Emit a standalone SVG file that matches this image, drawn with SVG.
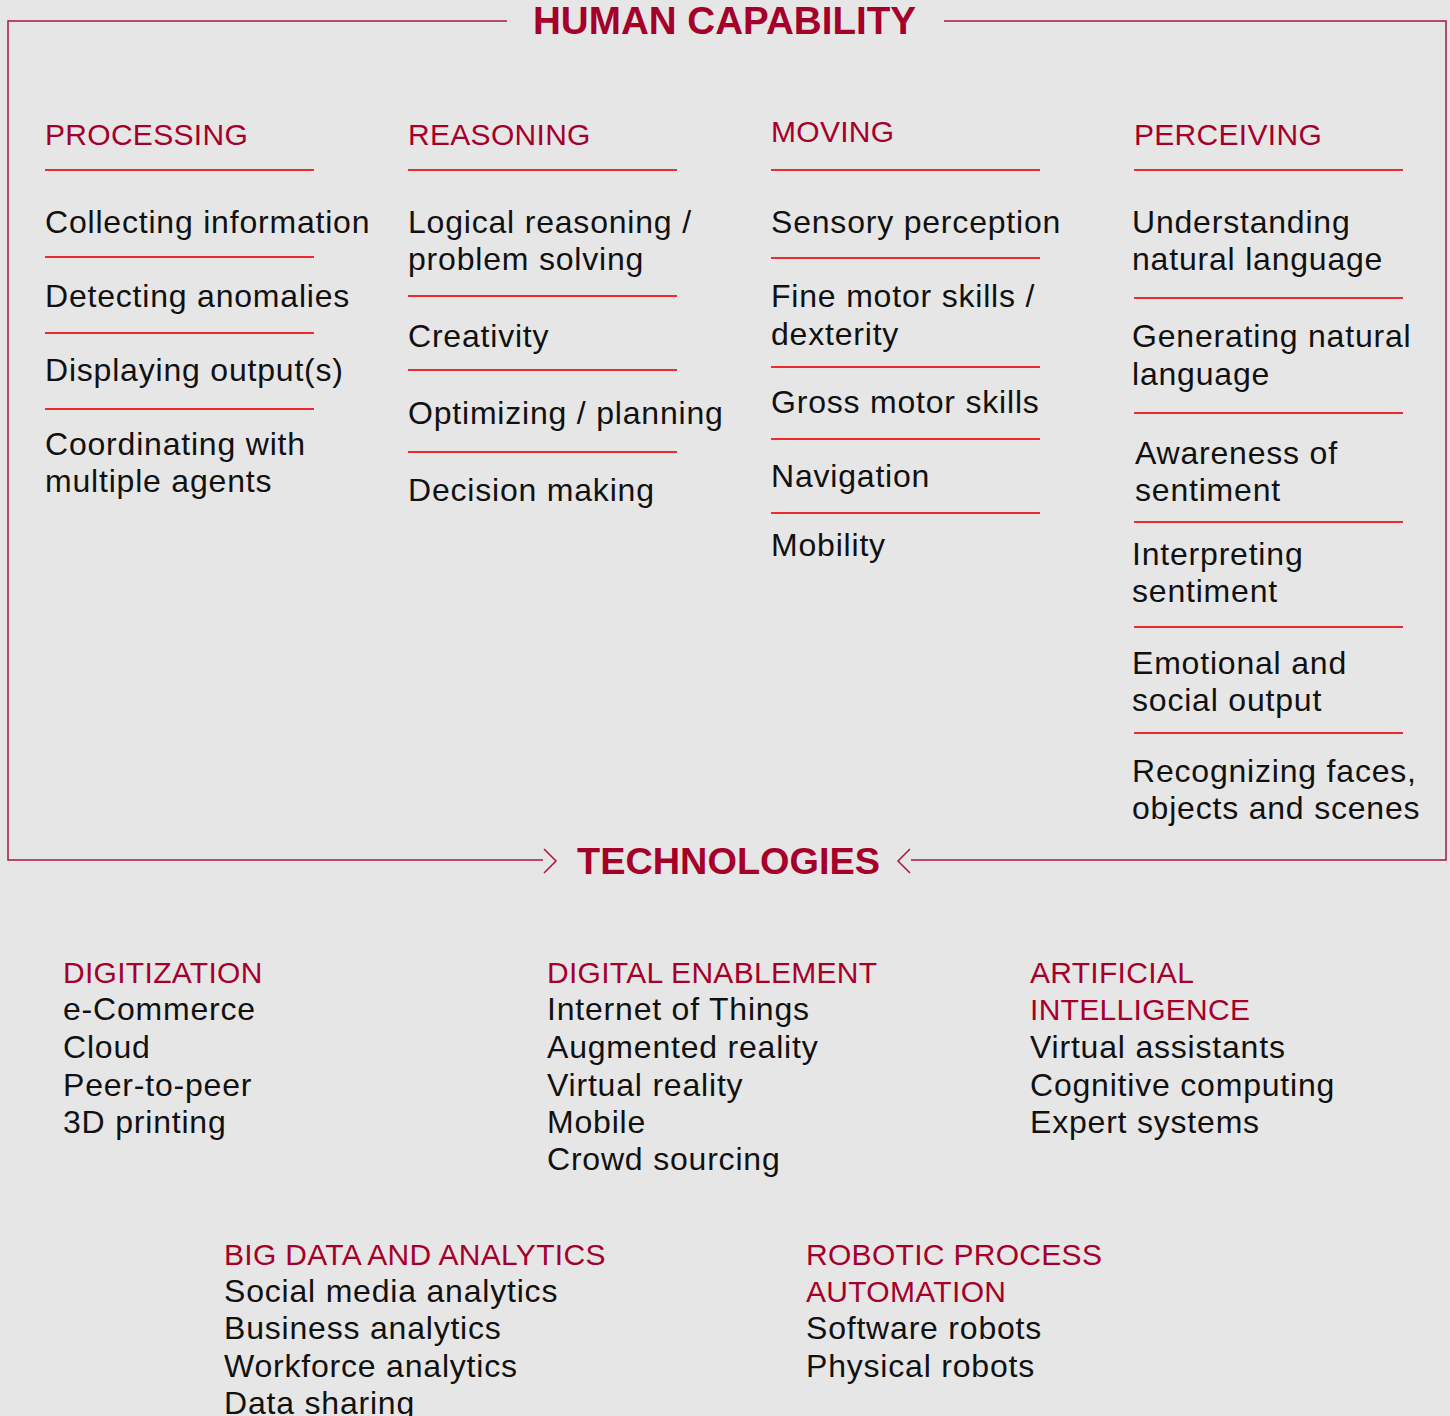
<svg xmlns="http://www.w3.org/2000/svg" width="1450" height="1416" viewBox="0 0 1450 1416">
<style>
.bg{fill:#e6e6e6}
.frame{stroke:#a8173a;stroke-width:1.5;fill:none}
.rule{stroke:#ee2a2e;stroke-width:2}
.title{font-family:"Liberation Sans",Arial,sans-serif;font-weight:bold;fill:#a5002a}
.hd{font-family:"Liberation Sans",Arial,sans-serif;font-size:30px;fill:#a5002a;letter-spacing:0.3px}
.tx{font-family:"Liberation Sans",Arial,sans-serif;font-size:32px;fill:#111;letter-spacing:0.8px}
</style>
<rect class="bg" x="0" y="0" width="1450" height="1416"/>
<g id="connectors">
<path class="frame" d="M507,21 H8 V860 H543"/>
<path class="frame" d="M944,21 H1446 V860 H911"/>
<path class="frame" d="M544,849 L556,861 L544,873" stroke-width="2.5"/>
<path class="frame" d="M910,849 L898,861 L910,873" stroke-width="2.5"/>
</g>
<g id="title-human">
<text class="title" x="533" y="34" font-size="38" textLength="383" lengthAdjust="spacingAndGlyphs">HUMAN CAPABILITY</text>
</g>
<g id="title-tech">
<text class="title" x="577" y="874" font-size="36" textLength="303" lengthAdjust="spacingAndGlyphs">TECHNOLOGIES</text>
</g>
<g id="col-processing">
<text class="hd" x="45" y="145">PROCESSING</text>
<line class="rule" x1="45" y1="170" x2="314" y2="170"/>
<text class="tx" x="45" y="233">Collecting information</text>
<line class="rule" x1="45" y1="257" x2="314" y2="257"/>
<text class="tx" x="45" y="307">Detecting anomalies</text>
<line class="rule" x1="45" y1="333" x2="314" y2="333"/>
<text class="tx" x="45" y="381">Displaying output(s)</text>
<line class="rule" x1="45" y1="409" x2="314" y2="409"/>
<text class="tx" x="45" y="455">Coordinating with</text>
<text class="tx" x="45" y="492">multiple agents</text>
</g>
<g id="col-reasoning">
<text class="hd" x="408" y="145">REASONING</text>
<line class="rule" x1="408" y1="170" x2="677" y2="170"/>
<text class="tx" x="408" y="233">Logical reasoning /</text>
<text class="tx" x="408" y="270">problem solving</text>
<line class="rule" x1="408" y1="296" x2="677" y2="296"/>
<text class="tx" x="408" y="347">Creativity</text>
<line class="rule" x1="408" y1="370" x2="677" y2="370"/>
<text class="tx" x="408" y="424">Optimizing / planning</text>
<line class="rule" x1="408" y1="452" x2="677" y2="452"/>
<text class="tx" x="408" y="501">Decision making</text>
</g>
<g id="col-moving">
<text class="hd" x="771" y="142">MOVING</text>
<line class="rule" x1="771" y1="170" x2="1040" y2="170"/>
<text class="tx" x="771" y="233">Sensory perception</text>
<line class="rule" x1="771" y1="258" x2="1040" y2="258"/>
<text class="tx" x="771" y="307">Fine motor skills /</text>
<text class="tx" x="771" y="345">dexterity</text>
<line class="rule" x1="771" y1="367" x2="1040" y2="367"/>
<text class="tx" x="771" y="413">Gross motor skills</text>
<line class="rule" x1="771" y1="439" x2="1040" y2="439"/>
<text class="tx" x="771" y="487">Navigation</text>
<line class="rule" x1="771" y1="513" x2="1040" y2="513"/>
<text class="tx" x="771" y="556">Mobility</text>
</g>
<g id="col-perceiving">
<text class="hd" x="1134" y="145">PERCEIVING</text>
<line class="rule" x1="1134" y1="170" x2="1403" y2="170"/>
<text class="tx" x="1132" y="233">Understanding</text>
<text class="tx" x="1132" y="270">natural language</text>
<line class="rule" x1="1134" y1="298" x2="1403" y2="298"/>
<text class="tx" x="1132" y="347">Generating natural</text>
<text class="tx" x="1132" y="385">language</text>
<line class="rule" x1="1134" y1="413" x2="1403" y2="413"/>
<text class="tx" x="1135" y="464">Awareness of</text>
<text class="tx" x="1135" y="501">sentiment</text>
<line class="rule" x1="1134" y1="522" x2="1403" y2="522"/>
<text class="tx" x="1132" y="565">Interpreting</text>
<text class="tx" x="1132" y="602">sentiment</text>
<line class="rule" x1="1134" y1="627" x2="1403" y2="627"/>
<text class="tx" x="1132" y="674">Emotional and</text>
<text class="tx" x="1132" y="711">social output</text>
<line class="rule" x1="1134" y1="733" x2="1403" y2="733"/>
<text class="tx" x="1132" y="782">Recognizing faces,</text>
<text class="tx" x="1132" y="819">objects and scenes</text>
</g>
<g id="tech-digitization">
<text class="hd" x="63" y="983">DIGITIZATION</text>
<text class="tx" x="63" y="1020">e-Commerce</text>
<text class="tx" x="63" y="1058">Cloud</text>
<text class="tx" x="63" y="1096">Peer-to-peer</text>
<text class="tx" x="63" y="1133">3D printing</text>
</g>
<g id="tech-digital-enablement">
<text class="hd" x="547" y="983">DIGITAL ENABLEMENT</text>
<text class="tx" x="547" y="1020">Internet of Things</text>
<text class="tx" x="547" y="1058">Augmented reality</text>
<text class="tx" x="547" y="1096">Virtual reality</text>
<text class="tx" x="547" y="1133">Mobile</text>
<text class="tx" x="547" y="1170">Crowd sourcing</text>
</g>
<g id="tech-ai">
<text class="hd" x="1030" y="983">ARTIFICIAL</text>
<text class="hd" x="1030" y="1020">INTELLIGENCE</text>
<text class="tx" x="1030" y="1058">Virtual assistants</text>
<text class="tx" x="1030" y="1096">Cognitive computing</text>
<text class="tx" x="1030" y="1133">Expert systems</text>
</g>
<g id="tech-big-data">
<text class="hd" x="224" y="1265">BIG DATA AND ANALYTICS</text>
<text class="tx" x="224" y="1302">Social media analytics</text>
<text class="tx" x="224" y="1339">Business analytics</text>
<text class="tx" x="224" y="1377">Workforce analytics</text>
<text class="tx" x="224" y="1414">Data sharing</text>
</g>
<g id="tech-rpa">
<text class="hd" x="806" y="1265">ROBOTIC PROCESS</text>
<text class="hd" x="806" y="1302">AUTOMATION</text>
<text class="tx" x="806" y="1339">Software robots</text>
<text class="tx" x="806" y="1377">Physical robots</text>
</g>
</svg>
